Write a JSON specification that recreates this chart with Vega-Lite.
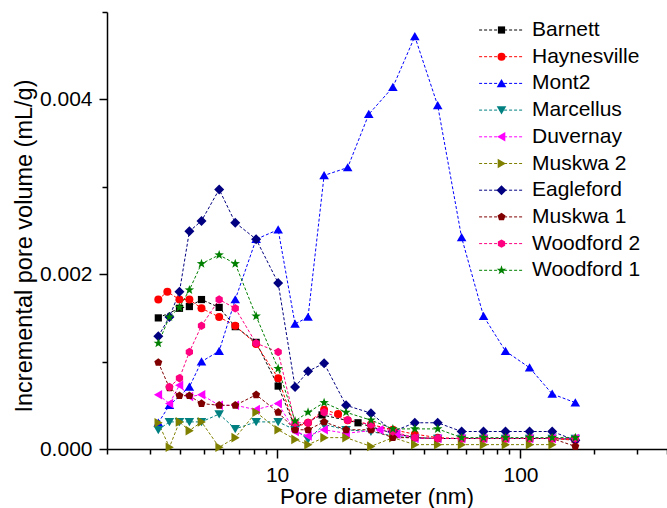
{
  "$schema": "https://vega.github.io/schema/vega-lite/v6.json",
  "width": 560,
  "height": 437,
  "autosize": {"type": "none"},
  "padding": {"left": 107, "top": 12, "right": 0, "bottom": 59},
  "background": "white",
  "config": {"font": "Liberation Sans", "view": {"stroke": null}},
  "data": {"values": [
    {"s":"Barnett","d":3.25,"v":0.0015},{"s":"Barnett","d":3.97,"v":0.00161},{"s":"Barnett","d":4.36,"v":0.00163},{"s":"Barnett","d":4.89,"v":0.00171},{"s":"Barnett","d":5.78,"v":0.00162},{"s":"Barnett","d":6.73,"v":0.0014},{"s":"Barnett","d":8.2,"v":0.00122},{"s":"Barnett","d":10.1,"v":0.00072},{"s":"Barnett","d":11.85,"v":0.00025},{"s":"Barnett","d":15.3,"v":0.00039},{"s":"Barnett","d":21.5,"v":0.0003},{"s":"Barnett","d":29.9,"v":0.00018},{"s":"Barnett","d":36.8,"v":0.00013},{"s":"Barnett","d":45.7,"v":0.00012},{"s":"Barnett","d":57.3,"v":0.00012},{"s":"Barnett","d":70.5,"v":0.00012},{"s":"Barnett","d":86.8,"v":0.00012},{"s":"Barnett","d":109,"v":0.00012},{"s":"Barnett","d":135,"v":0.00012},{"s":"Barnett","d":168,"v":0.00011},
    {"s":"Haynesville","d":3.25,"v":0.00171},{"s":"Haynesville","d":3.54,"v":0.0018},{"s":"Haynesville","d":3.97,"v":0.00171},{"s":"Haynesville","d":4.36,"v":0.00171},{"s":"Haynesville","d":4.89,"v":0.00161},{"s":"Haynesville","d":5.78,"v":0.00151},{"s":"Haynesville","d":6.73,"v":0.00141},{"s":"Haynesville","d":8.2,"v":0.0012},{"s":"Haynesville","d":10.1,"v":0.00081},{"s":"Haynesville","d":11.85,"v":0.00025},{"s":"Haynesville","d":13.4,"v":0.0003},{"s":"Haynesville","d":15.6,"v":0.00045},{"s":"Haynesville","d":17.8,"v":0.0004},{"s":"Haynesville","d":19.5,"v":0.00033},{"s":"Haynesville","d":24.3,"v":0.00028},{"s":"Haynesville","d":29.9,"v":0.00022},{"s":"Haynesville","d":36.8,"v":0.00017},{"s":"Haynesville","d":45.7,"v":0.00013},{"s":"Haynesville","d":57.3,"v":0.00012},{"s":"Haynesville","d":70.5,"v":0.00012},{"s":"Haynesville","d":86.8,"v":0.00012},{"s":"Haynesville","d":109,"v":0.00012},{"s":"Haynesville","d":135,"v":0.00012},{"s":"Haynesville","d":168,"v":0.0001},
    {"s":"Mont2","d":3.25,"v":0.0003},{"s":"Mont2","d":3.61,"v":0.0005},{"s":"Mont2","d":4.36,"v":0.00071},{"s":"Mont2","d":4.89,"v":0.001},{"s":"Mont2","d":5.78,"v":0.00112},{"s":"Mont2","d":6.73,"v":0.00171},{"s":"Mont2","d":8.2,"v":0.0024},{"s":"Mont2","d":10.1,"v":0.00251},{"s":"Mont2","d":11.85,"v":0.00143},{"s":"Mont2","d":13.4,"v":0.00151},{"s":"Mont2","d":15.6,"v":0.00313},{"s":"Mont2","d":19.5,"v":0.00322},{"s":"Mont2","d":23.8,"v":0.00383},{"s":"Mont2","d":29.9,"v":0.00414},{"s":"Mont2","d":36.8,"v":0.00472},{"s":"Mont2","d":45.7,"v":0.00393},{"s":"Mont2","d":57.3,"v":0.00242},{"s":"Mont2","d":70.5,"v":0.00152},{"s":"Mont2","d":86.8,"v":0.00112},{"s":"Mont2","d":109,"v":0.00093},{"s":"Mont2","d":135,"v":0.00063},{"s":"Mont2","d":168,"v":0.00053},
    {"s":"Marcellus","d":3.25,"v":0.00022},{"s":"Marcellus","d":3.61,"v":0.00031},{"s":"Marcellus","d":3.97,"v":0.00031},{"s":"Marcellus","d":4.36,"v":0.00031},{"s":"Marcellus","d":4.89,"v":0.00031},{"s":"Marcellus","d":5.78,"v":0.0004},{"s":"Marcellus","d":6.73,"v":0.00023},{"s":"Marcellus","d":8.2,"v":0.00031},{"s":"Marcellus","d":10.1,"v":0.00031},{"s":"Marcellus","d":11.85,"v":0.00022},{"s":"Marcellus","d":13.4,"v":0.00011},{"s":"Marcellus","d":15.6,"v":0.00028},{"s":"Marcellus","d":19.2,"v":0.00022},{"s":"Marcellus","d":24.3,"v":0.0002},{"s":"Marcellus","d":29.9,"v":0.00015},{"s":"Marcellus","d":36.8,"v":0.00012},{"s":"Marcellus","d":45.7,"v":0.00012},{"s":"Marcellus","d":57.3,"v":0.00012},{"s":"Marcellus","d":70.5,"v":0.00012},{"s":"Marcellus","d":86.8,"v":0.00012},{"s":"Marcellus","d":109,"v":0.00012},{"s":"Marcellus","d":135,"v":0.00012},{"s":"Marcellus","d":168,"v":0.00012},
    {"s":"Duvernay","d":3.25,"v":0.00062},{"s":"Duvernay","d":3.61,"v":0.00052},{"s":"Duvernay","d":3.97,"v":0.00073},{"s":"Duvernay","d":4.36,"v":0.0006},{"s":"Duvernay","d":4.89,"v":0.00062},{"s":"Duvernay","d":5.78,"v":0.0005},{"s":"Duvernay","d":6.73,"v":0.0005},{"s":"Duvernay","d":8.2,"v":0.00045},{"s":"Duvernay","d":10.1,"v":0.00052},{"s":"Duvernay","d":11.85,"v":0.0002},{"s":"Duvernay","d":13.4,"v":0.00015},{"s":"Duvernay","d":15.6,"v":0.00022},{"s":"Duvernay","d":19.2,"v":0.00018},{"s":"Duvernay","d":26.4,"v":0.00022},{"s":"Duvernay","d":31,"v":0.00017},{"s":"Duvernay","d":36.8,"v":0.00012},{"s":"Duvernay","d":45.7,"v":0.00012},{"s":"Duvernay","d":57.3,"v":0.00012},{"s":"Duvernay","d":70.5,"v":0.00012},{"s":"Duvernay","d":86.8,"v":0.00012},{"s":"Duvernay","d":109,"v":0.00012},{"s":"Duvernay","d":135,"v":0.00012},{"s":"Duvernay","d":168,"v":0.00012},
    {"s":"Muskwa 2","d":3.25,"v":0.0003},{"s":"Muskwa 2","d":3.61,"v":0.00002},{"s":"Muskwa 2","d":3.97,"v":0.00031},{"s":"Muskwa 2","d":4.36,"v":0.00021},{"s":"Muskwa 2","d":4.89,"v":0.00031},{"s":"Muskwa 2","d":5.78,"v":0.00002},{"s":"Muskwa 2","d":6.73,"v":0.00013},{"s":"Muskwa 2","d":8.2,"v":0.00042},{"s":"Muskwa 2","d":10.1,"v":0.00022},{"s":"Muskwa 2","d":11.85,"v":0.00011},{"s":"Muskwa 2","d":13.4,"v":0.00005},{"s":"Muskwa 2","d":15.6,"v":0.00013},{"s":"Muskwa 2","d":19.2,"v":0.00013},{"s":"Muskwa 2","d":24.3,"v":0.00003},{"s":"Muskwa 2","d":29.9,"v":0.00013},{"s":"Muskwa 2","d":36.8,"v":0.00005},{"s":"Muskwa 2","d":45.7,"v":0.00005},{"s":"Muskwa 2","d":57.3,"v":0.00005},{"s":"Muskwa 2","d":70.5,"v":0.00005},{"s":"Muskwa 2","d":86.8,"v":0.00005},{"s":"Muskwa 2","d":109,"v":0.00005},{"s":"Muskwa 2","d":135,"v":0.00005},
    {"s":"Eagleford","d":3.25,"v":0.00129},{"s":"Eagleford","d":3.61,"v":0.00151},{"s":"Eagleford","d":3.97,"v":0.0018},{"s":"Eagleford","d":4.36,"v":0.00249},{"s":"Eagleford","d":4.89,"v":0.00261},{"s":"Eagleford","d":5.78,"v":0.00297},{"s":"Eagleford","d":6.73,"v":0.00259},{"s":"Eagleford","d":8.2,"v":0.0024},{"s":"Eagleford","d":10.1,"v":0.0019},{"s":"Eagleford","d":11.85,"v":0.00071},{"s":"Eagleford","d":13.4,"v":0.00089},{"s":"Eagleford","d":15.6,"v":0.00098},{"s":"Eagleford","d":19.2,"v":0.0005},{"s":"Eagleford","d":24.3,"v":0.00041},{"s":"Eagleford","d":29.9,"v":0.0002},{"s":"Eagleford","d":36.8,"v":0.0003},{"s":"Eagleford","d":45.7,"v":0.0003},{"s":"Eagleford","d":57.3,"v":0.0002},{"s":"Eagleford","d":70.5,"v":0.0002},{"s":"Eagleford","d":86.8,"v":0.0002},{"s":"Eagleford","d":109,"v":0.0002},{"s":"Eagleford","d":135,"v":0.0002},{"s":"Eagleford","d":168,"v":0.0001},
    {"s":"Muskwa 1","d":3.25,"v":0.00099},{"s":"Muskwa 1","d":3.61,"v":0.0007},{"s":"Muskwa 1","d":3.97,"v":0.00061},{"s":"Muskwa 1","d":4.36,"v":0.00061},{"s":"Muskwa 1","d":4.89,"v":0.00052},{"s":"Muskwa 1","d":5.78,"v":0.0005},{"s":"Muskwa 1","d":6.73,"v":0.0005},{"s":"Muskwa 1","d":8.2,"v":0.00062},{"s":"Muskwa 1","d":10.1,"v":0.00042},{"s":"Muskwa 1","d":11.85,"v":0.00022},{"s":"Muskwa 1","d":13.4,"v":0.00022},{"s":"Muskwa 1","d":15.6,"v":0.00031},{"s":"Muskwa 1","d":19.2,"v":0.00022},{"s":"Muskwa 1","d":24.3,"v":0.00022},{"s":"Muskwa 1","d":29.9,"v":0.00013},{"s":"Muskwa 1","d":36.8,"v":0.00013},{"s":"Muskwa 1","d":45.7,"v":0.00012},{"s":"Muskwa 1","d":57.3,"v":0.00012},{"s":"Muskwa 1","d":70.5,"v":0.00012},{"s":"Muskwa 1","d":86.8,"v":0.00012},{"s":"Muskwa 1","d":109,"v":0.00012},{"s":"Muskwa 1","d":135,"v":0.00012},{"s":"Muskwa 1","d":168,"v":0.00003},
    {"s":"Woodford 2","d":3.61,"v":0.00071},{"s":"Woodford 2","d":3.97,"v":0.00081},{"s":"Woodford 2","d":4.36,"v":0.00111},{"s":"Woodford 2","d":4.89,"v":0.00141},{"s":"Woodford 2","d":5.78,"v":0.00171},{"s":"Woodford 2","d":6.73,"v":0.00161},{"s":"Woodford 2","d":8.2,"v":0.00121},{"s":"Woodford 2","d":10.1,"v":0.00111},{"s":"Woodford 2","d":11.85,"v":0.0003},{"s":"Woodford 2","d":13.4,"v":0.0003},{"s":"Woodford 2","d":15.6,"v":0.00042},{"s":"Woodford 2","d":19.5,"v":0.00033},{"s":"Woodford 2","d":24.3,"v":0.00028},{"s":"Woodford 2","d":29.9,"v":0.0002},{"s":"Woodford 2","d":36.8,"v":0.00013},{"s":"Woodford 2","d":45.7,"v":0.00012},{"s":"Woodford 2","d":57.3,"v":0.00012},{"s":"Woodford 2","d":70.5,"v":0.00012},{"s":"Woodford 2","d":86.8,"v":0.00012},{"s":"Woodford 2","d":109,"v":0.00012},{"s":"Woodford 2","d":135,"v":0.00012},{"s":"Woodford 2","d":168,"v":0.00012},
    {"s":"Woodford 1","d":3.25,"v":0.00121},{"s":"Woodford 1","d":3.61,"v":0.00151},{"s":"Woodford 1","d":3.97,"v":0.00162},{"s":"Woodford 1","d":4.36,"v":0.00182},{"s":"Woodford 1","d":4.89,"v":0.00212},{"s":"Woodford 1","d":5.78,"v":0.00222},{"s":"Woodford 1","d":6.73,"v":0.00212},{"s":"Woodford 1","d":8.2,"v":0.00152},{"s":"Woodford 1","d":10.1,"v":0.00092},{"s":"Woodford 1","d":11.85,"v":0.00032},{"s":"Woodford 1","d":13.4,"v":0.00042},{"s":"Woodford 1","d":15.6,"v":0.00053},{"s":"Woodford 1","d":19.2,"v":0.00042},{"s":"Woodford 1","d":24.3,"v":0.00033},{"s":"Woodford 1","d":29.9,"v":0.00023},{"s":"Woodford 1","d":36.8,"v":0.00023},{"s":"Woodford 1","d":45.7,"v":0.00023},{"s":"Woodford 1","d":57.3,"v":0.00013},{"s":"Woodford 1","d":70.5,"v":0.00013},{"s":"Woodford 1","d":86.8,"v":0.00013},{"s":"Woodford 1","d":109,"v":0.00013},{"s":"Woodford 1","d":135,"v":0.00013},{"s":"Woodford 1","d":168,"v":0.00013}
  ]},
  "encoding": {
    "x": {
      "field": "d", "type": "quantitative",
      "scale": {"type": "log", "domain": [2, 400], "nice": false},
      "title": "Pore diameter (nm)",
      "axis": {
        "values": [2,3,4,5,6,7,8,9,10,20,30,40,50,60,70,80,90,100,200,300,400],
        "format": "d",
        "labelExpr": "datum.value == 10 || datum.value == 100 ? datum.label : ''",
        "tickSize": {"condition": {"test": "datum.value == 10 || datum.value == 100", "value": 9}, "value": 5},
        "grid": false,
        "domainColor": "black", "domainWidth": 1.5,
        "tickColor": "black", "tickWidth": 1.5,
        "labelColor": "black", "labelFontSize": 21, "labelPadding": 6, "labelFlush": false, "labelOverlap": false,
        "titleColor": "black", "titleFontSize": 22.5, "titleFontWeight": "normal",
        "titleX": 269.5, "titleY": 54, "titleBaseline": "alphabetic"
      }
    },
    "y": {
      "field": "v", "type": "quantitative",
      "scale": {"domain": [0, 0.005], "nice": false, "zero": false},
      "title": "Incremental pore volume (mL/g)",
      "axis": {
        "values": [0, 0.001, 0.002, 0.003, 0.004, 0.005],
        "format": ".3f",
        "labelExpr": "abs(datum.value) < 1e-9 || abs(datum.value - 0.002) < 1e-9 || abs(datum.value - 0.004) < 1e-9 ? datum.label : ''",
        "tickSize": {"condition": {"test": "abs(datum.value) < 1e-9 || abs(datum.value - 0.002) < 1e-9 || abs(datum.value - 0.004) < 1e-9", "value": 8}, "value": 5},
        "grid": false,
        "domainColor": "black", "domainWidth": 1.5,
        "tickColor": "black", "tickWidth": 1.5,
        "labelColor": "black", "labelFontSize": 21, "labelPadding": 7, "labelFlush": false, "labelOverlap": false,
        "titleColor": "black", "titleFontSize": 23.5, "titleFontWeight": "normal",
        "titleX": -83, "titleY": 233.5, "titleBaseline": "middle"
      }
    }
  },
  "layer": [
    {
      "mark": {"type": "line", "strokeDash": [3, 2], "strokeWidth": 1},
      "encoding": {
        "stroke": {
          "field": "s", "type": "nominal",
          "scale": {
            "domain": ["Woodford 1","Woodford 2","Muskwa 1","Eagleford","Muskwa 2","Duvernay","Marcellus","Mont2","Haynesville","Barnett"],
            "range": ["#008000","#FF0080","#800000","#000080","#808000","#FF00FF","#008080","#0000FF","#FF0000","#000000"]
          },
          "legend": {
            "orient": "none", "legendX": 384, "legendY": 7.5, "title": null,
            "values": ["Barnett","Haynesville","Mont2","Marcellus","Duvernay","Muskwa 2","Eagleford","Muskwa 1","Woodford 2","Woodford 1"],
            "labelFontSize": 21, "labelOpacity": 0, "labelOffset": 20, "rowPadding": 4.7,
            "symbolSize": 64, "symbolType": "M -5.6 0 L 5.6 0", "symbolDash": [3, 2], "symbolStrokeWidth": 1
          }
        }
      }
    },
    {
      "mark": {"type": "point", "filled": true, "opacity": 1, "size": 64, "strokeWidth": 0.5},
      "encoding": {
        "color": {
          "field": "s", "type": "nominal",
          "scale": {
            "domain": ["Barnett","Haynesville","Mont2","Marcellus","Duvernay","Muskwa 2","Eagleford","Muskwa 1","Woodford 2","Woodford 1"],
            "range": ["#000000","#FF0000","#0000FF","#008080","#FF00FF","#808000","#000080","#800000","#FF0080","#008000"]
          },
          "legend": {
            "orient": "none", "legendX": 384, "legendY": 7.5, "title": null,
            "labelFontSize": 21, "labelColor": "black", "labelOffset": 20, "rowPadding": 4.7,
            "symbolSize": 64, "symbolStrokeWidth": 1
          }
        },
        "shape": {
          "field": "s", "type": "nominal",
          "scale": {
            "domain": ["Barnett","Haynesville","Mont2","Marcellus","Duvernay","Muskwa 2","Eagleford","Muskwa 1","Woodford 2","Woodford 1"],
            "range": [
              "M -0.9 -0.9 L 0.9 -0.9 L 0.9 0.9 L -0.9 0.9 Z",
              "circle",
              "M 0 -1.1 L 1.2 0.95 L -1.2 0.95 Z",
              "M 0 1.1 L 1.2 -0.95 L -1.2 -0.95 Z",
              "M -1.1 0 L 0.95 -1.2 L 0.95 1.2 Z",
              "M 1.1 0 L -0.95 -1.2 L -0.95 1.2 Z",
              "M 0 -1.25 L 1.25 0 L 0 1.25 L -1.25 0 Z",
              "M 0 -1.05 L 1 -0.32 L 0.62 0.85 L -0.62 0.85 L -1 -0.32 Z",
              "M 0 -1.05 L 0.91 -0.525 L 0.91 0.525 L 0 1.05 L -0.91 0.525 L -0.91 -0.525 Z",
              "M 0 -1.25 L 0.294 -0.405 L 1.189 -0.386 L 0.476 0.155 L 0.735 1.011 L 0 0.5 L -0.735 1.011 L -0.476 0.155 L -1.189 -0.386 L -0.294 -0.405 Z"
            ]
          },
          "legend": {
            "orient": "none", "legendX": 384, "legendY": 7.5, "title": null,
            "labelFontSize": 21, "labelColor": "black", "labelOffset": 20, "rowPadding": 4.7,
            "symbolSize": 64, "symbolStrokeWidth": 1
          }
        }
      }
    }
  ]
}
